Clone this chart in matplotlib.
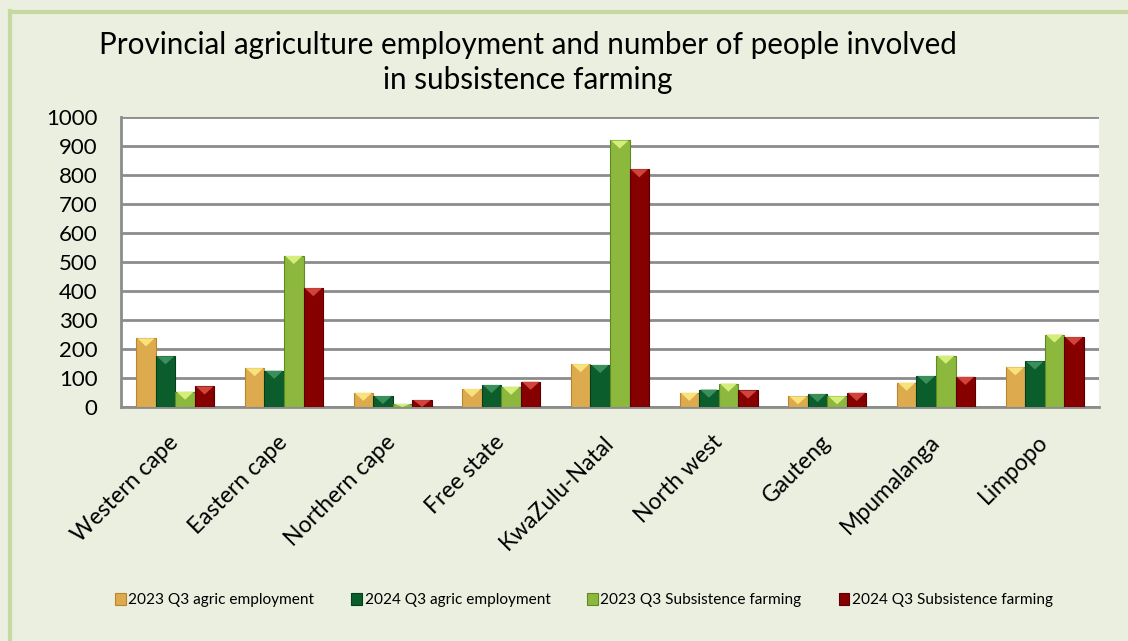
import numpy as np
import matplotlib
matplotlib.use('Agg')
import matplotlib.pyplot as plt
from matplotlib.patches import Polygon
from matplotlib.lines import Line2D

plt.rcParams['font.family'] = ['Lato', 'DejaVu Sans']

provinces = ['Western cape', 'Eastern cape', 'Northern cape', 'Free state', 'KwaZulu-Natal',
             'North west', 'Gauteng', 'Mpumalanga', 'Limpopo']
series_names = ['2023 Q3 agric employment', '2024 Q3 agric employment',
                '2023 Q3 Subsistence farming', '2024 Q3 Subsistence farming']
agric_2023 = [237, 134, 49, 62, 148, 49, 37, 84, 137]
agric_2024 = [175, 125, 38, 76, 145, 60, 45, 107, 157]
subsist_2023 = [53, 521, 11, 70, 919, 81, 37, 177, 250]
subsist_2024 = [71, 410, 24, 87, 820, 57, 49, 104, 241]

face_colors = ['#DDAA4E', '#0B5E2C', '#8DB83E', '#870000']
top_colors = ['#F8E27C', '#3B8F5A', '#D3EE7A', '#D0443C']
edge_colors = ['#B8862E', '#053E1B', '#5E8A22', '#5A0000']

bg = '#EBEFDF'
fig = plt.figure(figsize=(11.28, 6.41), dpi=100, facecolor=bg)
# frame lines along the top and left edges
fig.add_artist(Line2D([10 / 1128, 10 / 1128], [0, 1 - 11 / 641], color='#C5D9A0', lw=3,
                      transform=fig.transFigure))
fig.add_artist(Line2D([10 / 1128, 1], [1 - 12 / 641, 1 - 12 / 641], color='#C5D9A0', lw=3,
                      transform=fig.transFigure))

ax = fig.add_axes([121 / 1128, 1 - 407 / 641, (1099 - 121) / 1128, (407 - 117) / 641])
ax.set_facecolor('white')

x = np.arange(len(provinces))
w = 0.18
all_series = [agric_2023, agric_2024, subsist_2023, subsist_2024]
tri_depth = 28
for i, vals in enumerate(all_series):
    offs = (i - 1.5) * w
    bars = ax.bar(x + offs, vals, w, color=face_colors[i], edgecolor=edge_colors[i],
                  linewidth=0.8, zorder=3, label=series_names[i])
    for r in bars:
        bx, bw, bh = r.get_x(), r.get_width(), r.get_height()
        d = min(tri_depth, bh)
        ax.add_patch(Polygon([(bx + 0.01, bh), (bx + bw - 0.01, bh), (bx + bw / 2, bh - d)],
                             closed=True, facecolor=top_colors[i], edgecolor='none', zorder=4))

ax.set_xlim(-0.5, len(provinces) - 0.5)
ax.set_ylim(0, 1000)
ax.set_yticks(np.arange(0, 1001, 100))
ax.yaxis.grid(True, color='#8C8C8C', lw=2)
ax.set_axisbelow(True)
for s in ['top', 'right']:
    ax.spines[s].set_visible(False)
ax.spines['left'].set_color('#8C8C8C')
ax.spines['left'].set_linewidth(2)
ax.spines['bottom'].set_color('#8C8C8C')
ax.spines['bottom'].set_linewidth(2)
ax.tick_params(axis='y', length=0, pad=17, labelsize=16)
ax.tick_params(axis='x', length=0, pad=23)
ax.set_xticks(x)
ax.set_xticklabels(provinces, rotation=45, ha='right', va='center', rotation_mode='anchor',
                   fontsize=16.5)

fig.text(528 / 1128, 1 - 45 / 641, 'Provincial agriculture employment and number of people involved',
         ha='center', va='center', fontsize=21.3)
fig.text(528 / 1128, 1 - 80 / 641, 'in subsistence farming', ha='center', va='center', fontsize=21.3)

fig.legend(loc='center', bbox_to_anchor=(584 / 1128, 1 - 600 / 641), ncol=4, frameon=False,
           fontsize=11.1, handlelength=0.7, handleheight=0.9, handletextpad=0.15, columnspacing=2.4)

fig.savefig('out.png', dpi=100, facecolor=bg)
